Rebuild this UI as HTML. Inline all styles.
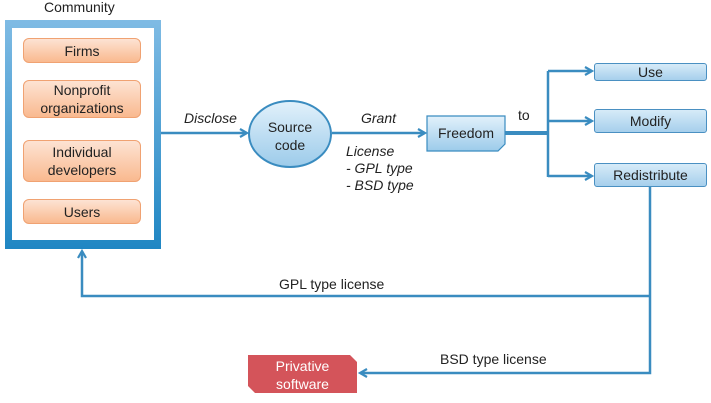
<!DOCTYPE html>
<html><head><style>
body{margin:0;background:#fff;width:711px;height:403px;overflow:hidden;position:relative;font-family:"Liberation Sans",sans-serif;}
.t{position:absolute;font-size:14px;color:#222;white-space:nowrap}
.o{position:absolute;left:23px;width:118px;background:linear-gradient(#fde3d3,#f9b98f);border:1px solid #f0a272;border-radius:6px;box-sizing:border-box;display:flex;align-items:center;justify-content:center;text-align:center;font-size:14px;line-height:18px;color:#222}
.b{position:absolute;left:594px;width:113px;background:linear-gradient(#d6ebf8,#a6cfec);border:1px solid #4a90c2;border-radius:3px;box-sizing:border-box;display:flex;align-items:center;justify-content:center;font-size:14px;color:#222}
</style></head><body>
<div class="t" style="left:44px;top:-1px">Community</div>
<div style="position:absolute;left:5px;top:20px;width:156px;height:229px;background:linear-gradient(#7fbbe4,#1f86c3);box-sizing:border-box"></div>
<div style="position:absolute;left:12px;top:28px;width:142px;height:212px;background:#fff"></div>
<div class="o" style="top:38px;height:25px">Firms</div>
<div class="o" style="top:80px;height:38px">Nonprofit<br>organizations</div>
<div class="o" style="top:140px;height:42px">Individual<br>developers</div>
<div class="o" style="top:199px;height:25px">Users</div>
<svg width="711" height="403" style="position:absolute;left:0;top:0">
<defs><marker id="a" markerWidth="10" markerHeight="10" refX="8" refY="5" orient="auto" markerUnits="userSpaceOnUse"><path d="M1,1 L8,5 L1,9" fill="none" stroke="#3a8cc0" stroke-width="2.2"/></marker>
<linearGradient id="g" x1="0" y1="0" x2="0" y2="1"><stop offset="0" stop-color="#e2f1fb"/><stop offset="1" stop-color="#9ccbea"/></linearGradient></defs>
<g stroke="#3a8cc0" stroke-width="2.5" fill="none">
<line x1="161" y1="133" x2="247" y2="133" marker-end="url(#a)"/>
<line x1="332" y1="133" x2="425" y2="133" marker-end="url(#a)"/>
<line x1="505" y1="133" x2="548" y2="133" stroke-width="4"/>
<line x1="548" y1="71" x2="548" y2="177"/>
<line x1="548" y1="71" x2="592" y2="71" marker-end="url(#a)"/>
<line x1="548" y1="121" x2="592" y2="121" marker-end="url(#a)"/>
<line x1="548" y1="176" x2="592" y2="176" marker-end="url(#a)"/>
<polyline points="650,187 650,373 360,373" marker-end="url(#a)"/>
<polyline points="650,296 82,296 82,251" marker-end="url(#a)"/>
</g>
<ellipse cx="290" cy="134" rx="41" ry="33" fill="url(#g)" stroke="#3a8cc0" stroke-width="2"/>
<path d="M427,116 H505 V144 L498,151 H427 Z" fill="url(#g)" stroke="#3a8cc0" stroke-width="1.2"/>
<path d="M255,355 H350 L357,362 V393 H255 L248,386 V355 Z" fill="#d4545a"/>
</svg>
<div class="t" style="left:262px;top:118px;text-align:center;width:56px;line-height:18px">Source<br>code</div>
<div class="t" style="left:184px;top:110px;font-style:italic">Disclose</div>
<div class="t" style="left:361px;top:110px;font-style:italic">Grant</div>
<div class="t" style="left:346px;top:143px;font-style:italic;line-height:17px">License<br>- GPL type<br>- BSD type</div>
<div class="t" style="left:427px;top:125px;width:78px;text-align:center">Freedom</div>
<div class="t" style="left:518px;top:107px">to</div>
<div class="b" style="top:63px;height:18px">Use</div>
<div class="b" style="top:109px;height:24px">Modify</div>
<div class="b" style="top:163px;height:24px">Redistribute</div>
<div class="t" style="left:279px;top:276px">GPL type license</div>
<div class="t" style="left:440px;top:351px">BSD type license</div>
<div class="t" style="left:248px;top:357px;width:109px;text-align:center;color:#fff;line-height:18px">Privative<br>software</div>
</body></html>
